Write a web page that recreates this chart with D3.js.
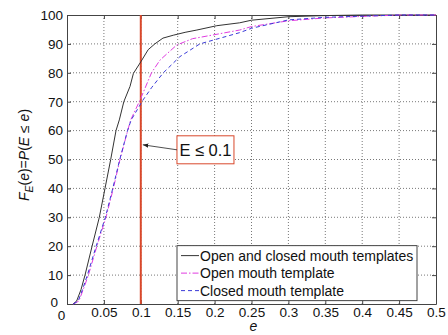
<!DOCTYPE html>
<html>
<head>
  <script src="https://cdn.jsdelivr.net/npm/d3@7"></script>
  <style>
    body { margin: 0; background: #fff; }
    text { font-family: "Liberation Sans", Arial, sans-serif; }
  </style>
</head>
<body>
  <svg id="chart" width="448" height="335"></svg>
  <script>
    // Kurverne (e, F i procent)
    const bothE = [0.008, 0.013, 0.019, 0.0244, 0.034, 0.0438, 0.0515, 0.0592, 0.0664, 0.0709, 0.077, 0.0854, 0.09, 0.1, 0.11, 0.119, 0.13, 0.144, 0.16, 0.176, 0.203, 0.234, 0.25, 0.3, 0.35, 0.4, 0.5];
    const bothF = [0, 1, 5, 10, 20, 30, 40, 50, 60, 63.7, 70, 75.3, 79.8, 83.8, 88, 90, 92, 93, 94, 94.8, 96.3, 97.3, 98.2, 99.4, 99.8, 100, 100];

    const openE = [0.0085, 0.016, 0.022, 0.029, 0.0405, 0.0528, 0.0628, 0.0718, 0.0822, 0.0863, 0.099, 0.1145, 0.126, 0.1486, 0.17, 0.198, 0.234, 0.25, 0.3, 0.35, 0.4, 0.45, 0.5];
    const openF = [0, 1, 5, 10, 20, 30, 40, 50, 60, 63.7, 70.6, 80, 84.4, 89.6, 91.8, 93.1, 94.8, 96, 98, 99, 99.5, 100, 100];

    const closedE = [0.0085, 0.015, 0.021, 0.0276, 0.0395, 0.052, 0.062, 0.0715, 0.082, 0.087, 0.103, 0.115, 0.1305, 0.153, 0.18, 0.198, 0.234, 0.25, 0.3, 0.35, 0.4, 0.45, 0.5];
    const closedF = [0, 1, 5, 10, 20, 30, 40, 50, 60, 63.7, 70.6, 75, 80, 85.6, 90, 91.3, 93.9, 95.4, 98.3, 99.2, 99.6, 100, 100];

    const xTicks = [0, 0.05, 0.1, 0.15, 0.2, 0.25, 0.3, 0.35, 0.4, 0.45, 0.5];
    const yTicks = [0, 10, 20, 30, 40, 50, 60, 70, 80, 90, 100];
    const threshold = 0.1;
    const legendNames = ["Open and closed mouth templates", "Open mouth template", "Closed mouth template"];

    const margin = { left: 67, top: 15, right: 12, bottom: 31 };
    const w = 448 - margin.left - margin.right;
    const h = 335 - margin.top - margin.bottom;

    const svg = d3.select("#chart");
    const g = svg.append("g").attr("transform", `translate(${margin.left},${margin.top})`);

    const x = d3.scaleLinear().domain([0, 0.5]).range([0, w]);
    const y = d3.scaleLinear().domain([0, 100]).range([h, 0]);

    // Gitter
    g.selectAll(".vgrid").data(xTicks.slice(1, -1)).enter().append("line")
      .attr("x1", d => x(d)).attr("x2", d => x(d)).attr("y1", 0).attr("y2", h)
      .attr("stroke", "#555").attr("stroke-width", 0.8).attr("stroke-dasharray", "1,2");
    g.selectAll(".hgrid").data(yTicks.slice(1, -1)).enter().append("line")
      .attr("y1", d => y(d)).attr("y2", d => y(d)).attr("x1", 0).attr("x2", w)
      .attr("stroke", "#555").attr("stroke-width", 0.8).attr("stroke-dasharray", "1,2");

    // Akser med indadvendte ticks
    const xAxis = g.append("g").attr("transform", `translate(0,${h})`)
      .call(d3.axisBottom(x).tickValues(xTicks).tickSizeInner(-4).tickSizeOuter(0).tickPadding(3).tickFormat(d3.format("")));
    const yAxis = g.append("g")
      .call(d3.axisLeft(y).tickValues(yTicks).tickSizeInner(-4).tickSizeOuter(0).tickPadding(4));
    g.append("g").call(d3.axisTop(x).tickValues(xTicks).tickSizeInner(-4).tickSizeOuter(0).tickFormat(""));
    g.append("g").attr("transform", `translate(${w},0)`)
      .call(d3.axisRight(y).tickValues(yTicks).tickSizeInner(-4).tickSizeOuter(0).tickFormat(""));
    g.selectAll(".domain").attr("stroke", "#444");
    g.selectAll(".tick line").attr("stroke", "#444");
    [xAxis, yAxis].forEach(a => a.selectAll("text")
      .attr("font-size", "13.5px").attr("fill", "#111")
      .style("font-family", "'Liberation Sans', Arial, sans-serif"));
    // nul-etiketterne er skubbet lidt ud fra hjørnet ligesom i originalen
    xAxis.selectAll(".tick").filter(d => d === 0).select("text").attr("dx", -6).attr("y", 6);
    yAxis.selectAll(".tick").filter(d => d === 0).select("text").attr("dx", -5).attr("dy", "0.2em");

    // Rød lodret linje ved e = 0.1
    g.append("line")
      .attr("x1", x(threshold)).attr("x2", x(threshold)).attr("y1", 0).attr("y2", h)
      .attr("stroke", "#d9482b").attr("stroke-width", 2);

    // Kurver
    const series = [
      { e: bothE, f: bothF, color: "#333", dash: null, width: 1 },
      { e: openE, f: openF, color: "#e03ce0", dash: "6,2,1.5,2", width: 1 },
      { e: closedE, f: closedF, color: "#3a3ad8", dash: "4,3", width: 1 }
    ];
    const line = d3.line().x(d => x(d[0])).y(d => y(d[1]));
    series.forEach(s => {
      g.append("path")
        .datum(d3.zip(s.e, s.f))
        .attr("d", line)
        .attr("fill", "none")
        .attr("stroke", s.color)
        .attr("stroke-width", s.width)
        .attr("stroke-dasharray", s.dash);
    });

    // Annotation: boks og pil
    svg.append("defs").append("marker")
      .attr("id", "arrow").attr("viewBox", "0 0 10 10").attr("refX", 10).attr("refY", 5)
      .attr("markerWidth", 7).attr("markerHeight", 7).attr("orient", "auto")
      .append("path").attr("d", "M0,1 L10,5 L0,9 z").attr("fill", "#222");
    const bx = x(0.149), by = y(58.2);
    g.append("rect").attr("x", bx).attr("y", by).attr("width", 57).attr("height", 28)
      .attr("fill", "#fff").attr("stroke", "#d9482b").attr("stroke-width", 1);
    g.append("text").attr("x", bx + 28.5).attr("y", by + 20).attr("text-anchor", "middle")
      .attr("font-size", "16.5px").attr("fill", "#111").text("E ≤ 0.1");
    g.append("line")
      .attr("x1", bx).attr("y1", by + 14).attr("x2", x(threshold) + 2).attr("y2", by + 9)
      .attr("stroke", "#222").attr("stroke-width", 0.8).attr("marker-end", "url(#arrow)");

    // Forklaring
    const lx = 110, ly = y(20.2), lw = 240, lh = 55;
    const legend = g.append("g").attr("transform", `translate(${lx},${ly})`);
    legend.append("rect").attr("width", lw).attr("height", lh)
      .attr("fill", "#fff").attr("stroke", "#444").attr("stroke-width", 1);
    series.forEach((s, i) => {
      const yy = 10 + i * 17.5;
      legend.append("line").attr("x1", 4).attr("x2", 22).attr("y1", yy).attr("y2", yy)
        .attr("stroke", s.color).attr("stroke-width", 1).attr("stroke-dasharray", s.dash);
      legend.append("text").attr("x", 23).attr("y", yy + 5)
        .attr("font-size", "14px").attr("fill", "#111").text(legendNames[i]);
    });

    // Aksetitler
    svg.append("text").attr("x", margin.left + w / 2 + 2).attr("y", 331)
      .attr("text-anchor", "middle").attr("font-size", "14px").attr("font-style", "italic")
      .attr("fill", "#111").text("e");
    const yl = svg.append("text")
      .attr("transform", `translate(29,155) rotate(-90)`)
      .attr("text-anchor", "middle").attr("font-size", "14px").attr("fill", "#111");
    yl.append("tspan").attr("font-style", "italic").text("F");
    yl.append("tspan").attr("font-style", "italic").attr("font-size", "10.5px").attr("dy", 4).text("E");
    yl.append("tspan").attr("dy", -4).text("(");
    yl.append("tspan").attr("font-style", "italic").text("e");
    yl.append("tspan").text(")=");
    yl.append("tspan").attr("font-style", "italic").text("P");
    yl.append("tspan").text("(");
    yl.append("tspan").attr("font-style", "italic").text("E");
    yl.append("tspan").text(" ≤ ");
    yl.append("tspan").attr("font-style", "italic").text("e");
    yl.append("tspan").text(")");
  </script>
</body>
</html>
